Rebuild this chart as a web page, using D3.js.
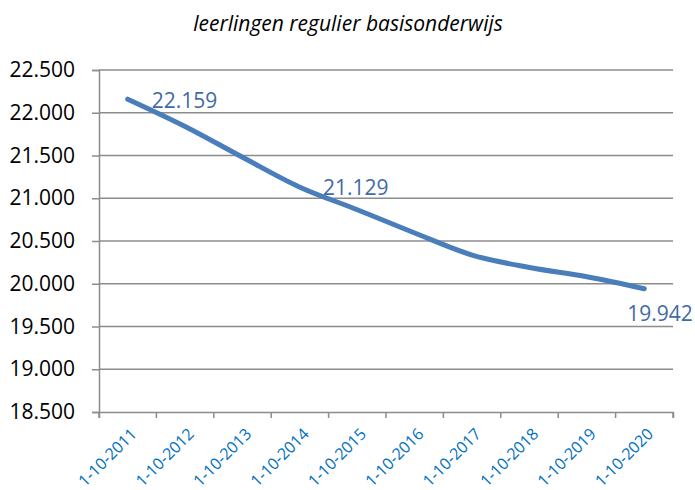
<!DOCTYPE html>
<html lang="nl">
<head>
<meta charset="utf-8">
<script src="https://d3js.org/d3.v7.min.js"></script>
<style>
  body { margin: 0; background: #fff; }
  text { font-family: "Open Sans", "Liberation Sans", sans-serif; }
</style>
</head>
<body>
<svg id="chart" width="695" height="490"></svg>
<script>
const dates = ["1-10-2011", "1-10-2012", "1-10-2013", "1-10-2014", "1-10-2015",
               "1-10-2016", "1-10-2017", "1-10-2018", "1-10-2019", "1-10-2020"];
const leerlingen = [22159, 21840, 21480, 21129, 20866, 20594, 20336, 20190, 20082, 19942];
const yTicks = [18500, 19000, 19500, 20000, 20500, 21000, 21500, 22000, 22500];
const labelled = [0, 3, 9];
const title = "leerlingen regulier basisonderwijs";

const svg = d3.select("#chart");
const margin = {top: 70, right: 22, bottom: 78, left: 99};
const width = 695, height = 490;

const x = d3.scaleBand()
    .domain(dates)
    .range([margin.left, width - margin.right]);
const y = d3.scaleLinear()
    .domain([18500, 22500])
    .range([height - margin.bottom, margin.top]);

const fmt = d => d3.format(",")(d).replace(/,/g, ".");

// gridlines
svg.append("g")
    .selectAll("line")
    .data(yTicks.slice(1))
    .join("line")
    .attr("x1", margin.left)
    .attr("x2", width - margin.right)
    .attr("y1", d => y(d))
    .attr("y2", d => y(d))
    .attr("stroke", "#8c8c8c")
    .attr("stroke-width", 1.5);

// y axis
const yAxis = svg.append("g")
    .attr("transform", `translate(${margin.left},0)`)
    .call(d3.axisLeft(y).tickValues(yTicks).tickFormat(fmt).tickSize(7).tickPadding(17));
yAxis.select(".domain").attr("stroke", "#8c8c8c").attr("stroke-width", 1.5);
yAxis.selectAll(".tick line").attr("stroke", "#8c8c8c").attr("stroke-width", 1.5);
yAxis.selectAll(".tick text")
    .attr("font-size", 21)
    .attr("fill", "#000");

// x axis
const xAxis = svg.append("g")
    .attr("transform", `translate(0,${height - margin.bottom})`)
    .call(d3.axisBottom(x).tickSize(6).tickSizeOuter(6));
xAxis.select(".domain").attr("stroke", "#8c8c8c").attr("stroke-width", 1.5);
xAxis.selectAll(".tick line")
    .attr("stroke", "#8c8c8c")
    .attr("stroke-width", 1.5)
    .attr("transform", `translate(${-x.bandwidth() / 2},0)`);
xAxis.append("line")
    .attr("x1", width - margin.right).attr("x2", width - margin.right)
    .attr("y1", 0).attr("y2", 6)
    .attr("stroke", "#8c8c8c").attr("stroke-width", 1.5);
xAxis.selectAll(".tick text")
    .attr("font-size", 16)
    .attr("fill", "#0070c0")
    .attr("text-anchor", "end")
    .attr("transform", "translate(6,19) rotate(-45)")
    .attr("dy", "0.35em")
    .attr("y", 0)
    .attr("x", 0);

// line
const line = d3.line()
    .x((d, i) => x(dates[i]) + x.bandwidth() / 2)
    .y(d => y(d))
    .curve(d3.curveMonotoneX);

svg.append("path")
    .datum(leerlingen)
    .attr("d", line)
    .attr("fill", "none")
    .attr("stroke", "#4a7ebb")
    .attr("stroke-width", 5)
    .attr("stroke-linecap", "round")
    .attr("stroke-linejoin", "round");

// data labels
const offsets = {0: [24, 9], 3: [23, 8], 9: [-17, 32]};
svg.append("g")
    .selectAll("text")
    .data(labelled)
    .join("text")
    .attr("x", i => x(dates[i]) + x.bandwidth() / 2 + offsets[i][0])
    .attr("y", i => y(leerlingen[i]) + offsets[i][1])
    .attr("font-size", 21)
    .attr("fill", "#3f6aa6")
    .text(i => fmt(leerlingen[i]));

// title
svg.append("text")
    .attr("x", 348)
    .attr("y", 31)
    .attr("text-anchor", "middle")
    .attr("font-size", 21)
    .attr("font-style", "italic")
    .attr("fill", "#000")
    .text(title);
</script>
</body>
</html>
